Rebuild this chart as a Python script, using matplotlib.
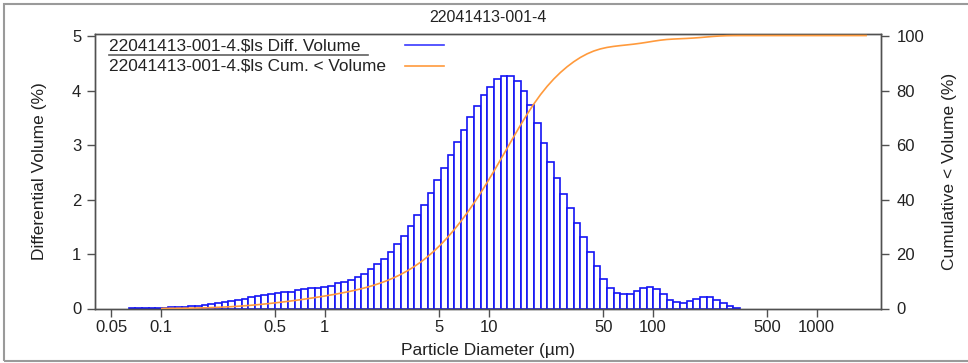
import numpy as np
import matplotlib
matplotlib.use("Agg")
import matplotlib.pyplot as plt
from matplotlib.lines import Line2D
from matplotlib.patches import Rectangle

plt.rcParams['font.family'] = ['Liberation Sans', 'DejaVu Sans']

sample_name = "22041413-001-4"
diff_label = "22041413-001-4.\\$ls Diff. Volume"
cum_label = "22041413-001-4.\\$ls Cum. < Volume"

# instrument channels: 116 log-spaced size classes, 0.04 - 2000 um
size_min_um = 0.04
size_max_um = 2000.0
n_channels = 116

# differential volume (%) per channel
diff_volume = [
    0, 0, 0, 0, 0, 0.002, 0.003, 0.005, 0.008, 0.012,
    0.016, 0.022, 0.03, 0.035, 0.045, 0.055, 0.07, 0.085, 0.10, 0.12,
    0.145, 0.165, 0.18, 0.21, 0.23, 0.25, 0.27, 0.28, 0.30, 0.31,
    0.335, 0.35, 0.37, 0.38, 0.40, 0.42, 0.46, 0.48, 0.53, 0.58,
    0.64, 0.727, 0.818, 0.916, 1.04, 1.185, 1.34, 1.51, 1.71, 1.91,
    2.13, 2.36, 2.59, 2.83, 3.06, 3.29, 3.52, 3.72, 3.93, 4.08,
    4.21, 4.27, 4.27, 4.18, 4.00, 3.74, 3.41, 3.05, 2.70, 2.39,
    2.10, 1.84, 1.58, 1.31, 1.04, 0.78, 0.55, 0.38, 0.29, 0.26,
    0.27, 0.32, 0.37, 0.40, 0.36, 0.27, 0.16, 0.12, 0.11, 0.14,
    0.18, 0.21, 0.21, 0.16, 0.10, 0.04, 0.01, 0, 0, 0,
    0, 0, 0, 0, 0, 0, 0, 0, 0, 0,
    0, 0, 0, 0, 0, 0,
]

x_tick_values = [0.05, 0.1, 0.5, 1, 5, 10, 50, 100, 500, 1000]
x_tick_labels = ["0.05", "0.1", "0.5", "1", "5", "10", "50", "100", "500", "1000"]
left_ticks = [0, 1, 2, 3, 4, 5]
right_ticks = [0, 20, 40, 60, 80, 100]

edges = np.logspace(np.log10(size_min_um), np.log10(size_max_um), n_channels + 1)
diff_arr = np.asarray(diff_volume, dtype=float)
cum_volume = np.concatenate([[0.0], np.cumsum(diff_arr)])

BLUE = "#1414F5"
ORANGE = "#FF9A3C"
AXC = "#505050"
TXT = "#222222"

W, H = 968, 363
AL, AR, AT, AB = 94.5, 881.0, 33.5, 308.5
AW, AH = AR - AL, AB - AT
fig = plt.figure(figsize=(W / 100, H / 100), dpi=100)
ax = fig.add_axes([AL / W, 1 - AB / H, AW / W, AH / H])


def ax_x(px):
    return (px - AL) / AW


def ax_y(py):
    return (AB - py) / AH


# outer frame around the page
fig.patches.append(Rectangle((4 / W, 2 / H), 1.0, (359 - 2) / H, transform=fig.transFigure,
                             fill=False, edgecolor="#9a9a9a", lw=1.5, zorder=0))

nz = diff_arr > 0
ax.bar(edges[:-1][nz], diff_arr[nz], width=np.diff(edges)[nz], align="edge",
       facecolor="white", edgecolor=BLUE, linewidth=1.2, zorder=2)

ax.set_xscale("log")
ax.set_xlim(0.0395, 2466)
ax.set_ylim(0, 5.055)
ax.set_xticks(x_tick_values)
ax.set_xticklabels(x_tick_labels)
ax.xaxis.set_minor_locator(matplotlib.ticker.NullLocator())
ax.set_yticks(left_ticks)

ax2 = ax.twinx()
start = np.argmax(cum_volume > 0.02)
ax2.plot(edges[start:], cum_volume[start:], color=ORANGE, lw=1.2, zorder=3)
ax2.set_ylim(0, 101.1)
ax2.set_yticks(right_ticks)

for a in (ax, ax2):
    for s in a.spines.values():
        s.set_color(AXC)
        s.set_linewidth(1.0)
    a.tick_params(direction="out", length=6, width=1.0, color=AXC,
                  labelsize=12, labelcolor=TXT)
ax.tick_params(axis="x", length=5.5, pad=3)
ax.tick_params(axis="y", pad=3.5)
ax2.tick_params(axis="y", pad=5)

ax.set_xlabel("Particle Diameter (µm)", fontsize=12.5, color=TXT)
ax.xaxis.set_label_coords(0.5, -0.125)
ax.set_ylabel("Differential Volume (%)", fontsize=12.5, color=TXT)
ax.yaxis.set_label_coords(-0.0604, 0.5)
ax2.set_ylabel("Cumulative < Volume (%)", fontsize=12.5, color=TXT)
ax2.yaxis.set_label_coords(1.0772, 0.5)

ax.text(0.5, ax_y(17), sample_name, transform=ax.transAxes, ha="center", va="center",
        fontsize=11.5, color=TXT)

# legend block
tx = ax_x(109.3)
ax.text(tx, ax_y(46), diff_label, transform=ax.transAxes, ha="left", va="center",
        fontsize=12.4, color=TXT, zorder=5)
ax.text(tx, ax_y(65.5), cum_label, transform=ax.transAxes, ha="left", va="center",
        fontsize=12.4, color=TXT, zorder=5)
ax.add_line(Line2D([ax_x(109), ax_x(368)], [ax_y(54.5)] * 2, transform=ax.transAxes,
                   color="#606060", lw=1.2, zorder=5))
lx0, lx1 = ax_x(405), ax_x(444)
ax.add_line(Line2D([lx0, lx1], [ax_y(45)] * 2, transform=ax.transAxes,
                   color="#3a3aff", lw=1.2, zorder=5))
ax.add_line(Line2D([lx0, lx1], [ax_y(65.7)] * 2, transform=ax.transAxes,
                   color=ORANGE, lw=1.2, zorder=5))

fig.savefig("out.png", dpi=100)
